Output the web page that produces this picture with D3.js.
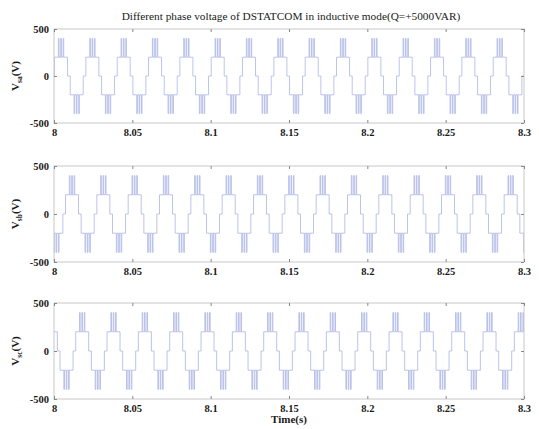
<!DOCTYPE html>
<html>
<head>
<meta charset="utf-8">
<script src="https://cdn.jsdelivr.net/npm/d3@7/dist/d3.min.js"></script>
<style>
  html, body { margin: 0; padding: 0; background: #fff; }
  svg { display: block; }
  text { font-family: "Liberation Serif", "Times New Roman", serif; fill: #1a1a1a; }
</style>
</head>
<body>
<svg id="chart" width="539" height="429"></svg>
<script>
// ---------------- data ----------------
const title = "Different phase voltage of DSTATCOM in inductive mode(Q=+5000VAR)";
const xLabel = "Time(s)";
const phaseNames = ["sa", "sb", "sc"];
const timeDomain = [8, 8.3];
const voltDomain = [-500, 500];
const timeTicks = [8, 8.05, 8.1, 8.15, 8.2, 8.25, 8.3];
const timeTickLabels = ["8", "8.05", "8.1", "8.15", "8.2", "8.25", "8.3"];
const voltTicks = [-500, 0, 500];
const voltTickLabels = ["-500", "0", "500"];
const fundamentalPeriod = 0.02;                 // s (50 Hz)
// time of a positive peak of each phase (s)
const peakTimes = [8.0045, 8.0115, 8.018];
// one period of the staircase/PWM output, relative to the positive peak (ms)
const stepTimesMs = [-5, -4.15, -1.7, -1.3, -0.2, 0.2, 1.3, 1.7, 4.15, 5.85, 8.3, 8.7, 9.8, 10.2, 11.3, 11.7, 14.15];
const stepLevelsV = [ 0,   200,  400,  200,  400, 200, 400, 200,    0, -200, -400, -200, -400, -200, -400, -200, 0];

// ---------------- layout ----------------
const svg = d3.select("#chart");
const left = 54, right = 524;
const panels = [
  { top: 29, bottom: 123 },
  { top: 166, bottom: 262 },
  { top: 303, bottom: 399 }
];
const lineColor = "#b4bce8";
const boxColor = "#c8c8c8";

const x = d3.scaleLinear().domain(timeDomain).range([left, right]);

svg.append("text")
  .attr("x", (left + right) / 2 + 2).attr("y", 20)
  .attr("text-anchor", "middle")
  .attr("font-size", 11.3)
  .text(title);

function buildSeries(peak) {
  const pts = [];
  const T = fundamentalPeriod;
  const kStart = Math.floor((timeDomain[0] - peak) / T) - 1;
  const kEnd = Math.ceil((timeDomain[1] - peak) / T) + 1;
  for (let k = kStart; k <= kEnd; k++) {
    const base = peak + k * T;
    stepTimesMs.forEach((ms, i) => pts.push([base + ms / 1000, stepLevelsV[i]]));
  }
  return pts;
}

panels.forEach((p, idx) => {
  const y = d3.scaleLinear().domain(voltDomain).range([p.bottom, p.top]);
  const g = svg.append("g");

  g.append("clipPath").attr("id", "clip" + idx)
    .append("rect").attr("x", left).attr("y", p.top - 1)
    .attr("width", right - left).attr("height", p.bottom - p.top + 2);

  // waveform
  const line = d3.line().x(d => x(d[0])).y(d => y(d[1])).curve(d3.curveStepAfter);
  g.append("path")
    .datum(buildSeries(peakTimes[idx]))
    .attr("clip-path", "url(#clip" + idx + ")")
    .attr("fill", "none")
    .attr("stroke", lineColor)
    .attr("stroke-width", 0.9)
    .attr("d", line);

  // box
  g.append("rect")
    .attr("x", left).attr("y", p.top)
    .attr("width", right - left).attr("height", p.bottom - p.top)
    .attr("fill", "none").attr("stroke", boxColor).attr("stroke-width", 1);

  // axes (ticks inward)
  const xb = d3.axisBottom(x).tickValues(timeTicks).tickFormat((d, i) => timeTickLabels[i])
    .tickSizeInner(-3).tickSizeOuter(0).tickPadding(6);
  const xt = d3.axisTop(x).tickValues(timeTicks).tickFormat("")
    .tickSizeInner(-3).tickSizeOuter(0);
  const yl = d3.axisLeft(y).tickValues(voltTicks).tickFormat((d, i) => voltTickLabels[i])
    .tickSizeInner(-3).tickSizeOuter(0).tickPadding(5);
  const yr = d3.axisRight(y).tickValues(voltTicks).tickFormat("")
    .tickSizeInner(-3).tickSizeOuter(0);

  const styleAxis = sel => {
    sel.select(".domain").remove();
    sel.selectAll(".tick line").attr("stroke", "#888");
    sel.selectAll(".tick text")
      .attr("font-family", "Liberation Serif, Times New Roman, serif")
      .attr("font-size", 10.5).attr("font-weight", "bold").attr("fill", "#1a1a1a");
  };
  g.append("g").attr("transform", `translate(0,${p.bottom})`).call(xb).call(styleAxis);
  g.append("g").attr("transform", `translate(0,${p.top})`).call(xt).call(styleAxis);
  g.append("g").attr("transform", `translate(${left},0)`).call(yl).call(styleAxis);
  g.append("g").attr("transform", `translate(${right},0)`).call(yr).call(styleAxis);

  // y label
  const yc = (p.top + p.bottom) / 2;
  const lab = g.append("text")
    .attr("transform", `translate(19,${yc}) rotate(-90)`)
    .attr("text-anchor", "middle")
    .attr("font-size", 11).attr("font-weight", "bold");
  lab.append("tspan").text("V");
  lab.append("tspan").attr("font-size", 7.5).attr("dy", 2.5).text(phaseNames[idx]);
  lab.append("tspan").attr("dy", -2.5).text("(V)");
});

svg.append("text")
  .attr("x", (left + right) / 2).attr("y", 423)
  .attr("text-anchor", "middle")
  .attr("font-size", 11).attr("font-weight", "bold")
  .text(xLabel);
</script>
</body>
</html>
